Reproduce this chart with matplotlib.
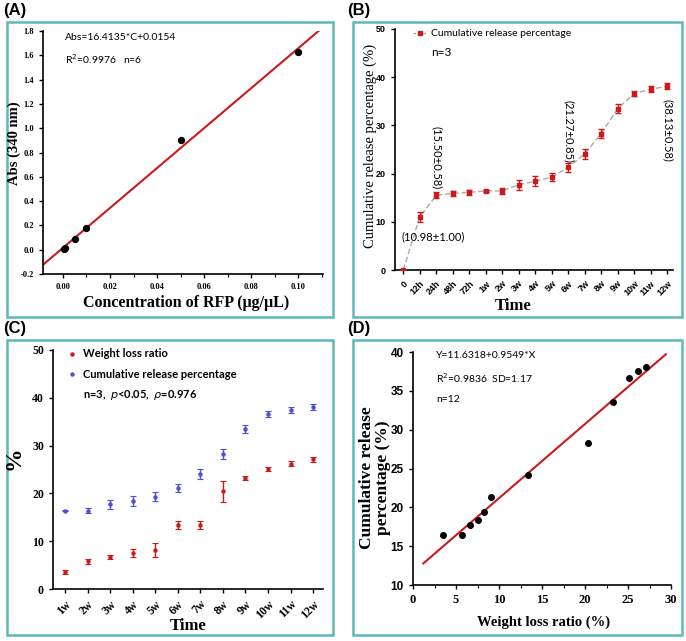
import matplotlib
matplotlib.use("Agg")
import matplotlib.pyplot as plt
from matplotlib.patches import Rectangle
import numpy as np

W, H = 686, 641
SERIF = "Liberation Serif"
SANS = "Liberation Sans"
CAL = "Lato"

# ---------------- data ----------------
# Panel A: standard curve
conc = [0.0005, 0.001, 0.005, 0.01, 0.05, 0.10]
absorb = [0.005, 0.015, 0.085, 0.18, 0.90, 1.625]
fitA_slope, fitA_int = 16.4135, 0.0154
fitA_x = [-0.01, 0.109]

# Panel B: cumulative release over time
timesB = ["0", "12h", "24h", "48h", "72h", "1w", "2w", "3w", "4w", "5w", "6w",
          "7w", "8w", "9w", "10w", "11w", "12w"]
releaseB = [0, 10.98, 15.50, 15.9, 16.1, 16.4, 16.4, 17.7, 18.4, 19.3, 21.27,
            24.1, 28.3, 33.5, 36.6, 37.5, 38.13]
releaseB_err = [0, 1.00, 0.58, 0.5, 0.6, 0.2, 0.6, 1.0, 1.0, 0.9, 0.85,
                1.0, 1.0, 0.9, 0.6, 0.6, 0.58]

# Panel C: weekly weight loss & cumulative release
weeks = ["1w", "2w", "3w", "4w", "5w", "6w", "7w", "8w", "9w", "10w", "11w", "12w"]
weight_loss = [3.5, 5.8, 6.7, 7.5, 8.2, 13.4, 13.4, 20.4, 23.2, 25.1, 26.2, 27.1]
weight_loss_err = [0.4, 0.5, 0.5, 0.8, 1.5, 0.9, 0.9, 2.2, 0.4, 0.5, 0.5, 0.5]
cum_release = [16.4, 16.4, 17.7, 18.4, 19.3, 21.2, 24.1, 28.3, 33.5, 36.6, 37.5, 38.1]
cum_release_err = [0.1, 0.6, 1.0, 1.0, 0.9, 0.85, 1.0, 1.0, 0.9, 0.6, 0.6, 0.58]

# Panel D: scatter points and correlation fit
d_weight_loss = [3.5, 5.7, 6.6, 7.5, 8.2, 9.1, 13.4, 20.4, 23.2, 25.1, 26.2, 27.1]
d_release = [16.4, 16.4, 17.7, 18.4, 19.4, 21.3, 24.1, 28.3, 33.5, 36.6, 37.5, 38.1]
fitD_int, fitD_slope = 11.6318, 0.9549
fitD_x = [1.2, 29.4]

RED = "#CC1A1A"
BLUE = "#5050D0"
FRAME = "#5DB8B8"

fig = plt.figure(figsize=(W / 100, H / 100), dpi=100)


def ax_px(l, r, t, b):
    return fig.add_axes([l / W, 1 - b / H, (r - l) / W, (b - t) / H])


def frame(l, r, t, b):
    fig.patches.append(Rectangle((l / W, 1 - b / H), (r - l) / W, (b - t) / H,
                                 transform=fig.transFigure, fill=False,
                                 edgecolor=FRAME, linewidth=1.8))


def ftext(x, y, s, **kw):
    fig.text(x / W, 1 - y / H, s, **kw)


def style(ax):
    for sp in ["top", "right"]:
        ax.spines[sp].set_visible(False)
    for sp in ["left", "bottom"]:
        ax.spines[sp].set_linewidth(1.2)
    ax.tick_params(direction="out", width=1, length=3)


# frames & panel labels
frame(7, 333, 22, 317)
frame(353, 682, 22, 317)
frame(7, 333, 340, 635)
frame(353, 682, 340, 635)
for (x, y, s) in [(3, 11, "(A)"), (347, 11, "(B)"), (3, 329, "(C)"), (347, 329, "(D)")]:
    ftext(x, y, s, fontsize=12, fontweight="bold", family=SANS, va="center")

# ---------------- Panel A ----------------
axA = ax_px(43, 323, 31, 274)
style(axA)
fx = np.array(fitA_x)
axA.plot(fx, fitA_slope * fx + fitA_int, color=RED, lw=1.5)
axA.scatter(conc, absorb, s=18, color="black", zorder=3)
axA.set_xlim(-0.0085, 0.1106)
axA.set_ylim(-0.2, 1.8)
axA.set_xticks(np.arange(0, 0.101, 0.02))
axA.set_xticks(np.arange(-0.0, 0.111, 0.01), minor=True)
axA.tick_params(which="minor", direction="out", length=2, width=0.8)
axA.set_xticklabels([f"{v:.2f}" for v in np.arange(0, 0.101, 0.02)])
axA.set_yticks(np.arange(-0.2, 1.81, 0.2))
axA.set_yticklabels([f"{v:.1f}" for v in np.arange(-0.2, 1.81, 0.2)])
for lab in axA.get_xticklabels() + axA.get_yticklabels():
    lab.set_family(SERIF); lab.set_fontsize(6); lab.set_fontweight("bold")
ftext(186, 303, "Concentration of RFP (μg/μL)", family=SERIF, fontsize=11.5,
      fontweight="bold", ha="center", va="center")
ftext(14, 143, "Abs (340 nm)", family=SERIF, fontsize=10.5, fontweight="bold",
      rotation=90, ha="center", va="center")
ftext(65, 37, "Abs=16.4135*C+0.0154", family=CAL, fontsize=7.5, va="center")
ftext(65, 59, "R$^2$=0.9976   n=6", family=CAL, fontsize=7.5, va="center")

# ---------------- Panel B ----------------
axB = ax_px(395, 673, 29, 270)
style(axB)
xb = np.arange(len(timesB))
axB.plot(xb, releaseB, color="#AAAAAA", ls=(0, (4, 2)), lw=1, zorder=1)
axB.errorbar(xb, releaseB, yerr=releaseB_err, fmt="s", ms=3.5, color=RED,
             ecolor=RED, elinewidth=1, capsize=2, capthick=1, zorder=3)
axB.set_xlim(-0.5, 16.35)
axB.set_ylim(0, 50)
axB.set_xticks(xb)
axB.set_xticklabels(timesB, rotation=45, ha="right", rotation_mode="anchor")
axB.set_yticks(range(0, 51, 10))
for lab in axB.get_xticklabels() + axB.get_yticklabels():
    lab.set_family(SANS); lab.set_fontsize(6.5); lab.set_fontweight("bold")
ftext(513, 306, "Time", family=SERIF, fontsize=12, fontweight="bold",
      ha="center", va="center")
ftext(370, 146, "Cumulative release percentage (%)", family=SERIF, fontsize=10.5,
      rotation=90, ha="center", va="center")
axB.text(-0.1, 6.8, "(10.98±1.00)", family=CAL, fontsize=8, ha="left", va="center")
axB.text(2, 23.4, "(15.50±0.58)", family=CAL, fontsize=8, rotation=-90,
         ha="center", va="center")
axB.text(10, 28.8, "(21.27±0.85)", family=CAL, fontsize=8, rotation=-90,
         ha="center", va="center")
axB.text(16, 29.0, "(38.13±0.58)", family=CAL, fontsize=8, rotation=-90,
         ha="center", va="center")
# legend
lx0, lx1 = 413 / W, 427 / W
fig.add_artist(plt.Line2D([lx0, lx1], [1 - 33 / H] * 2, color="#AAAAAA",
                          ls=(0, (2, 1.5)), lw=1))
fig.add_artist(plt.Line2D([420 / W], [1 - 33 / H], marker="s", ms=3.5, color=RED))
ftext(431, 33, "Cumulative release percentage", family=CAL, fontsize=7.5, va="center")
ftext(431, 53, "n=3", family=CAL, fontsize=8.5, va="center")

# ---------------- Panel C ----------------
axC = ax_px(53, 323, 350, 589)
style(axC)
xc = np.arange(len(weeks))
axC.errorbar(xc, weight_loss, yerr=weight_loss_err, fmt="o", ms=2.2, color=RED,
             ecolor=RED, elinewidth=1, capsize=2, capthick=0.8)
axC.errorbar(xc, cum_release, yerr=cum_release_err, fmt="o", ms=2.2, color=BLUE,
             ecolor=BLUE, elinewidth=1, capsize=2, capthick=0.8)
axC.set_xlim(-0.53, 11.44)
axC.set_ylim(0, 50)
axC.set_xticks(xc)
axC.set_xticklabels(weeks, rotation=45, ha="right", rotation_mode="anchor")
axC.set_yticks(range(0, 51, 10))
for lab in axC.get_xticklabels() + axC.get_yticklabels():
    lab.set_family(SERIF); lab.set_fontsize(8.5); lab.set_fontweight("bold")
ftext(188, 626, "Time", family=SERIF, fontsize=12, fontweight="bold",
      ha="center", va="center")
ftext(14, 458, "%", family=SERIF, fontsize=17, fontweight="bold",
      rotation=90, ha="center", va="center")
fig.add_artist(plt.Line2D([72 / W], [1 - 354 / H], marker="o", ms=2.2, color=RED))
fig.add_artist(plt.Line2D([72 / W], [1 - 374 / H], marker="o", ms=2.2, color=BLUE))
ftext(83, 354, "Weight loss ratio", family=CAL, fontsize=8, fontweight="bold", va="center")
ftext(83, 374, "Cumulative release percentage", family=CAL, fontsize=8,
      fontweight="bold", va="center")
ftext(83, 395, "n=3,  $\\mathit{p}$<0.05,  $\\rho$=0.976", family=CAL, fontsize=8,
      fontweight="bold", va="center")

# ---------------- Panel D ----------------
axD = ax_px(413, 671, 352, 585)
style(axD)
dx = np.array(fitD_x)
axD.plot(dx, fitD_int + fitD_slope * dx, color=RED, lw=1.5)
axD.scatter(d_weight_loss, d_release, s=16, color="black", zorder=3)
axD.set_xlim(0, 30)
axD.set_ylim(10, 40)
axD.set_xticks(range(0, 31, 5))
axD.set_xticks(np.arange(2.5, 30, 5), minor=True)
axD.set_yticks(range(10, 41, 5))
axD.tick_params(which="minor", direction="out", length=2, width=0.8)
for lab in axD.get_xticklabels():
    lab.set_family(SERIF); lab.set_fontsize(9); lab.set_fontweight("bold")
for lab in axD.get_yticklabels():
    lab.set_family(SANS); lab.set_fontsize(8.5); lab.set_fontweight("bold")
ftext(544, 622, "Weight loss ratio (%)", family=SERIF, fontsize=10.5,
      fontweight="bold", ha="center", va="center")
ftext(375, 478, "Cumulative release\npercentage (%)", family=SERIF, fontsize=12.5,
      fontweight="bold", rotation=90, ha="center", va="center", linespacing=1.05,
      multialignment="center")
ftext(436, 356, "Y=11.6318+0.9549*X", family=CAL, fontsize=7.5, va="center")
ftext(436, 378, "R$^2$=0.9836  SD=1.17", family=CAL, fontsize=7.5, va="center")
ftext(436, 400, "n=12", family=CAL, fontsize=7.5, va="center")

fig.savefig("out.png", dpi=100)
